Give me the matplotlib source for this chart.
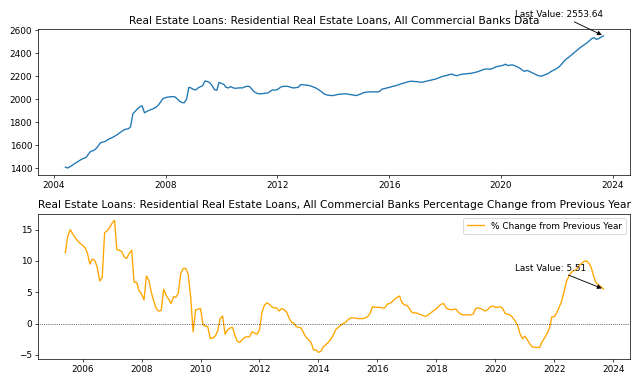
import matplotlib
matplotlib.use("Agg")
import matplotlib.pyplot as plt
import matplotlib.dates as mdates
import pandas as pd

# Residential real estate loans, all commercial banks (billions), monthly
level_start = "2004-06-01"
level_values = [
    1409, 1401, 1412, 1425, 1440, 1452, 1465,                                   # 2004 Jun-Dec
    1478, 1486, 1495, 1524, 1548, 1552, 1566, 1590, 1620, 1627, 1632, 1645,     # 2005
    1657, 1665, 1676, 1688, 1702, 1716, 1731, 1740, 1742, 1760, 1875, 1895,     # 2006
    1918, 1935, 1944, 1883, 1893, 1904, 1912, 1920, 1932, 1950, 1980, 2008,     # 2007
    2015, 2019, 2021, 2024, 2022, 2004, 1985, 1972, 1970, 1998, 2105, 2098,     # 2008
    2086, 2082, 2099, 2110, 2119, 2160, 2155, 2145, 2119, 2085, 2078, 2148,     # 2009
    2138, 2130, 2105, 2099, 2111, 2100, 2096, 2098, 2100, 2099, 2108, 2114,     # 2010
    2112, 2090, 2068, 2055, 2048, 2048, 2050, 2053, 2056, 2070, 2082, 2080,     # 2011
    2085, 2100, 2111, 2113, 2114, 2110, 2103, 2099, 2102, 2105, 2128, 2126,     # 2012
    2125, 2122, 2118, 2111, 2104, 2093, 2080, 2065, 2048, 2040, 2035, 2033,     # 2013
    2033, 2038, 2042, 2044, 2046, 2048, 2046, 2042, 2039, 2035, 2033, 2040,     # 2014
    2048, 2058, 2062, 2064, 2065, 2065, 2065, 2064, 2070, 2090, 2093, 2099,     # 2015
    2103, 2110, 2115, 2120, 2127, 2134, 2140, 2146, 2152, 2157, 2157, 2155,     # 2016
    2154, 2151, 2148, 2153, 2158, 2163, 2167, 2172, 2177, 2185, 2193, 2200,     # 2017
    2205, 2210, 2216, 2220, 2210, 2206, 2212, 2218, 2220, 2222, 2225, 2226,     # 2018
    2230, 2235, 2240, 2248, 2256, 2263, 2264, 2263, 2265, 2275, 2284, 2288,     # 2019
    2292, 2298, 2306, 2294, 2298, 2300, 2292, 2283, 2272, 2258, 2243, 2252,     # 2020
    2245, 2235, 2226, 2215, 2206, 2202, 2206, 2215, 2222, 2235, 2249, 2258,     # 2021
    2270, 2285, 2305, 2330, 2350, 2365, 2382, 2399, 2416, 2433, 2451, 2465,     # 2022
    2480, 2494, 2510, 2530, 2537, 2522, 2530, 2542, 2553.64,                    # 2023 Jan-Sep
]

# Percent change from previous year, monthly
pct_start = "2005-06-01"
pct_values = [
    11.3, 13.9, 15.0, 14.3, 13.7, 13.2, 12.8,                                   # 2005 Jun-Dec
    12.5, 12.1, 11.3, 9.5, 10.3, 10.1, 9.0, 6.8, 7.4, 14.5, 14.8, 15.3,         # 2006
    16.0, 16.5, 11.8, 11.7, 11.5, 10.6, 10.4, 11.2, 11.7, 6.6, 6.6, 5.3,        # 2007
    4.7, 3.8, 7.6, 6.9, 5.0, 3.6, 2.4, 2.0, 2.1, 5.5, 4.5, 3.9,                 # 2008
    3.2, 4.3, 4.2, 4.9, 8.0, 8.8, 8.8, 7.9, 4.2, -1.3, 2.2, 2.3,                # 2009
    2.4, -0.2, -0.4, -0.5, -2.4, -2.3, -2.0, -1.2, 0.8, 1.2, -1.7, -1.0,        # 2010
    -0.7, -0.6, -1.8, -2.8, -3.0, -2.6, -2.2, -2.1, -2.1, -1.3, -1.5, -1.7,     # 2011
    -1.0, 1.8, 2.9, 3.3, 3.1, 2.7, 2.5, 2.5, 2.0, 2.4, 2.2, 1.9,                # 2012
    0.9, 0.2, 0.1, -0.5, -0.6, -0.7, -1.5, -2.2, -2.6, -3.0, -4.2, -4.2,        # 2013
    -4.6, -4.4, -3.7, -3.4, -3.0, -2.5, -1.9, -1.0, -0.6, -0.3, 0.0, 0.2,       # 2014
    0.6, 0.9, 0.9, 0.9, 0.8, 0.8, 0.8, 0.9, 1.1, 1.6, 2.7, 2.6,                 # 2015
    2.6, 2.6, 2.5, 2.5, 3.1, 3.2, 3.5, 3.9, 4.2, 4.4, 3.3, 3.0,                 # 2016
    2.9, 2.4, 1.8, 1.7, 1.7, 1.5, 1.4, 1.2, 1.2, 1.5, 1.8, 2.1,                 # 2017
    2.4, 2.8, 3.1, 3.2, 2.5, 2.3, 2.2, 2.3, 2.3, 1.8, 1.5, 1.4,                 # 2018
    1.4, 1.4, 1.4, 1.5, 2.4, 2.5, 2.4, 2.2, 2.0, 2.3, 2.7, 2.8,                 # 2019
    2.6, 2.6, 2.7, 2.4, 1.6, 1.5, 1.4, 1.0, 0.4, -0.2, -1.6, -2.4,              # 2020
    -2.0, -2.6, -3.2, -3.7, -3.8, -3.8, -3.8, -2.9, -2.3, -1.6, -0.7, 1.1,      # 2021
    1.1, 1.8, 2.6, 3.6, 5.2, 6.8, 7.6, 8.2, 8.5, 8.6, 9.2, 9.6,                 # 2022
    9.9, 10.0, 9.7, 9.0, 7.6, 6.5, 6.2, 5.9, 5.51,                              # 2023 Jan-Sep
]

level = pd.Series(level_values,
                  index=pd.date_range(level_start, periods=len(level_values), freq="MS"))
pct = pd.Series(pct_values,
                index=pd.date_range(pct_start, periods=len(pct_values), freq="MS"))

title = "Real Estate Loans: Residential Real Estate Loans, All Commercial Banks"

# original looks like a default-styled 10x6 figure rendered at 64 dpi
dpi = 64
fig, (ax1, ax2) = plt.subplots(2, 1, figsize=(10, 6), dpi=dpi)
fig.subplots_adjust(left=0.06, right=0.985, top=0.924, bottom=0.065, hspace=0.268)

ax1.plot(level.index, level.values, color="#1f77b4")
ax1.set_title(f"{title} Data")
ax1.xaxis.set_major_locator(mdates.YearLocator(4))
ax1.xaxis.set_major_formatter(mdates.DateFormatter("%Y"))
ax1.annotate(f"Last Value: {level.iloc[-1]:.2f}",
             xy=(level.index[-1], level.iloc[-1]),
             xytext=(-88, 21), textcoords="offset pixels", ha="left", va="center",
             arrowprops=dict(arrowstyle="-|>", color="black", lw=1))

ax2.plot(pct.index, pct.values, color="orange", label="% Change from Previous Year")
ax2.axhline(0, color="black", linestyle=":", linewidth=0.8)
ax2.set_title(f"{title} Percentage Change from Previous Year")
ax2.xaxis.set_major_locator(mdates.YearLocator(2))
ax2.xaxis.set_major_formatter(mdates.DateFormatter("%Y"))
ax2.legend(loc="upper right")
ax2.annotate(f"Last Value: {pct.iloc[-1]:.2f}",
             xy=(pct.index[-1], pct.iloc[-1]),
             xytext=(-88, 21), textcoords="offset pixels", ha="left", va="center",
             arrowprops=dict(arrowstyle="-|>", color="black", lw=1))

fig.savefig("out.png", dpi=dpi)
